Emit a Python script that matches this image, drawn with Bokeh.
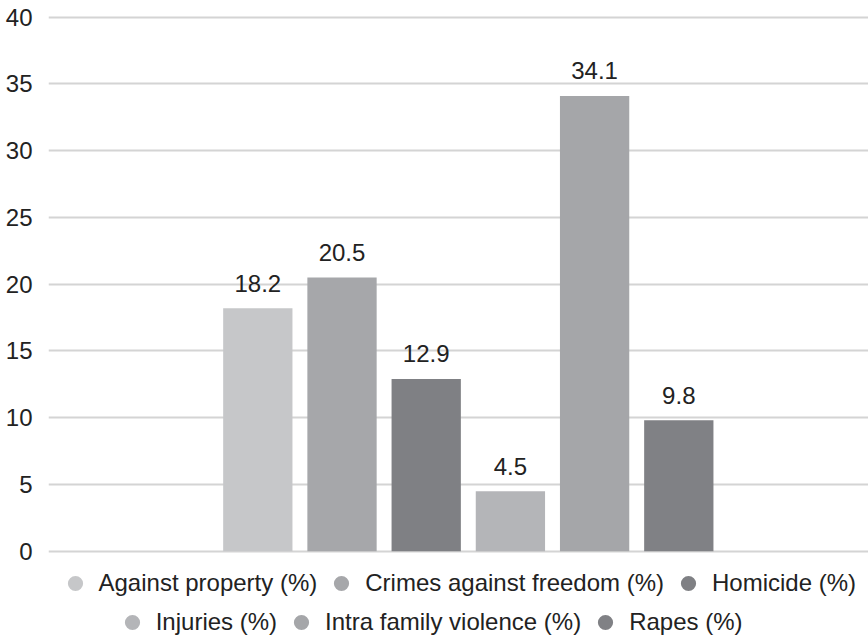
from bokeh.plotting import figure
from bokeh.models import Range1d, Legend, LegendItem, ColumnDataSource, FixedTicker
from bokeh.embed import file_html
from bokeh.resources import INLINE
from bokeh.core.properties import value

# Crime categories and their shares (%)
categories = [
    "Against property (%)",
    "Crimes against freedom (%)",
    "Homicide (%)",
    "Injuries (%)",
    "Intra family violence (%)",
    "Rapes (%)",
]
values = [18.2, 20.5, 12.9, 4.5, 34.1, 9.8]
colors = ["#c6c7c9", "#a6a7aa", "#7f8084", "#b4b5b8", "#a5a6a9", "#808185"]
y_ticks = [0, 5, 10, 15, 20, 25, 30, 35, 40]

FONT = "Liberation Sans"
TEXT_COLOR = "#222222"

positions = list(range(len(categories)))
labels = [f"{v:.1f}" for v in values]
src = ColumnDataSource(dict(x=positions, top=values, color=colors, label=labels))

# The frame runs down to the bottom edge so the legend rows can sit
# inside it, under the zero line; grid and ticks stop at 0..40.
p = figure(
    width=868, height=638,
    output_backend="svg", toolbar_location=None,
    x_range=Range1d(-2.486, 7.253),
    y_range=Range1d(-6.539, 40.127),
    min_border_left=48, min_border_right=0,
    min_border_top=15, min_border_bottom=0,
)
p.outline_line_color = None
p.background_fill_color = "white"
p.border_fill_color = "white"

# bars
p.vbar(x="x", top="top", width=0.823, fill_color="color", line_color=None, source=src)

# value labels above bars
p.text(
    x="x", y="top", text="label", source=src,
    text_align="center", text_baseline="alphabetic", y_offset=-25,
    text_font=value(FONT), text_font_size="24px", text_color=TEXT_COLOR,
)

# axes and grid
p.xaxis.visible = False
p.xgrid.visible = False
p.yaxis.ticker = FixedTicker(ticks=y_ticks)
p.yaxis.axis_line_color = None
p.yaxis.major_tick_line_color = None
p.yaxis.minor_tick_line_color = None
p.yaxis.major_tick_out = 0
p.yaxis.major_tick_in = 0
p.yaxis.major_label_standoff = 16
p.yaxis.major_label_text_font = FONT
p.yaxis.major_label_text_font_size = "24px"
p.yaxis.major_label_text_color = TEXT_COLOR
p.ygrid.grid_line_color = "#d4d4d4"
p.ygrid.grid_line_width = 2
p.ygrid.bounds = (0, 40)

# round legend markers: one NaN point each, so nothing is drawn in the plot
dots = [
    p.scatter(x=[float("nan")], y=[float("nan")], marker="circle", size=15,
              fill_color=c, line_color=None)
    for c in colors
]


def make_legend(idx, loc):
    return Legend(
        items=[LegendItem(label=value(categories[i]), renderers=[dots[i]]) for i in idx],
        orientation="horizontal",
        location=loc,
        glyph_width=38, glyph_height=38,
        label_standoff=5, spacing=5,
        padding=0, margin=0,
        border_line_color=None, background_fill_alpha=0,
        label_text_font=FONT, label_text_font_size="24px",
        label_text_color=TEXT_COLOR,
    )


p.add_layout(make_legend([0, 1, 2], (7.5, 35.7)))
p.add_layout(make_legend([3, 4, 5], (64.7, -2.7)))

open("out.html", "w").write(file_html(p, INLINE))
